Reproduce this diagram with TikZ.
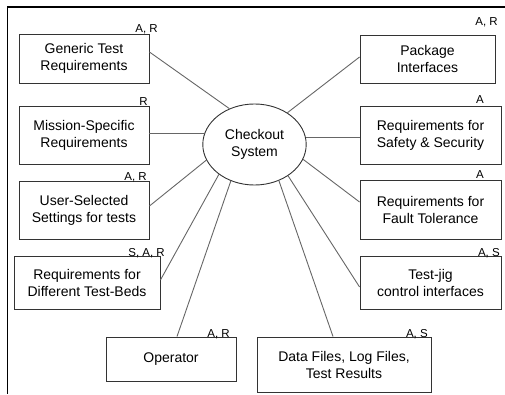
\documentclass[tikz,border=0pt]{standalone}
\usepackage{fontspec}
\setmainfont{Liberation Sans}
\usetikzlibrary{shapes.geometric}
\definecolor{boxline}{gray}{0.2}
\definecolor{conline}{gray}{0.4}
\tikzset{
  box/.style={draw=boxline, line width=0.9pt, rectangle, align=center, inner sep=0pt,
    font=\fontsize{14}{17}\selectfont},
  tag/.style={anchor=base east, inner sep=0pt, font=\fontsize{11.5}{13}\selectfont},
  conn/.style={draw=conline, line width=0.9pt},
  frameline/.style={draw=black, line width=1.3pt}
}
\begin{document}
\begin{tikzpicture}[x=1pt,y=1pt]
\useasboundingbox (0,0) rectangle (505,394);
\draw[frameline] (505,387) -- (7.5,387) -- (7.5,0);
% centre
\node[draw=boxline, line width=0.9pt, ellipse, minimum width=103.4pt, minimum height=81pt, inner sep=0pt,
  align=center, font=\fontsize{14}{17}\selectfont] (cs) at (254.5,249.5) {Checkout\\System};
% left boxes
\node[box, minimum width=130pt, minimum height=49pt] (gen) at (84,335.5) {Generic Test\\Requirements};
\node[box, minimum width=130pt, minimum height=58pt] (mis) at (84,259) {Mission-Specific\\Requirements};
\node[box, minimum width=130pt, minimum height=58pt] (usr) at (84,184) {User-Selected\\Settings for tests};
\node[box, minimum width=146pt, minimum height=53pt] (tb) at (87,111.5) {Requirements for\\Different Test-Beds};
\node[box, minimum width=130pt, minimum height=44pt] (op) at (171,35) {Operator};
\node[box, minimum width=174pt, minimum height=55pt] (df) at (344,29.5) {Data Files, Log Files,\\Test Results};
% right boxes
\node[box, minimum width=135pt, minimum height=48pt] (pkg) at (427.5,335) {Package\\Interfaces};
\node[box, minimum width=141pt, minimum height=58pt] (saf) at (430.5,259) {Requirements for\\Safety \& Security};
\node[box, minimum width=141pt, minimum height=59pt] (flt) at (430.5,184.5) {Requirements for\\Fault Tolerance};
\node[box, minimum width=141pt, minimum height=53pt] (tj) at (430.5,111.5) {Test-jig\\control interfaces};
% tags
\node[tag] (tgen) at (158,361) {A, R};
\node[tag] (tmis) at (148,288) {R};
\node[tag] (tusr) at (147,214) {A, R};
\node[tag] (ttb) at (165,138) {S, A, R};
\node[tag] (top) at (230,57) {A, R};
\node[tag] (tdf) at (428,57) {A, S};
\node[tag] (tpkg) at (498,368) {A, R};
\node[tag] (tsaf) at (484,290) {A};
\node[tag] (tflt) at (484,215) {A};
\node[tag] (ttj) at (500,138) {A, S};
% connectors
\draw[conn] ([yshift=6.5pt]gen.east) -- (cs.125);
\draw[conn] (cs.167) -- (cs.167 -| mis.east);
\draw[conn] ([yshift=4pt]usr.east) -- (cs.198);
\draw[conn] ([yshift=2.5pt]tb.east) -- (cs.220);
\draw[conn] ([xshift=6pt]op.north) -- (cs.237);
\draw[conn] ([xshift=-11pt]df.north) -- (cs.304);
\draw[conn] ([yshift=-4.5pt]tj.west) -- (cs.317);
\draw[conn] ([yshift=7.5pt]flt.west) -- (cs.343);
\draw[conn] (cs.8) -- (cs.8 -| saf.west);
\draw[conn] ([yshift=2pt]pkg.west) -- (cs.44);
\end{tikzpicture}
\end{document}
